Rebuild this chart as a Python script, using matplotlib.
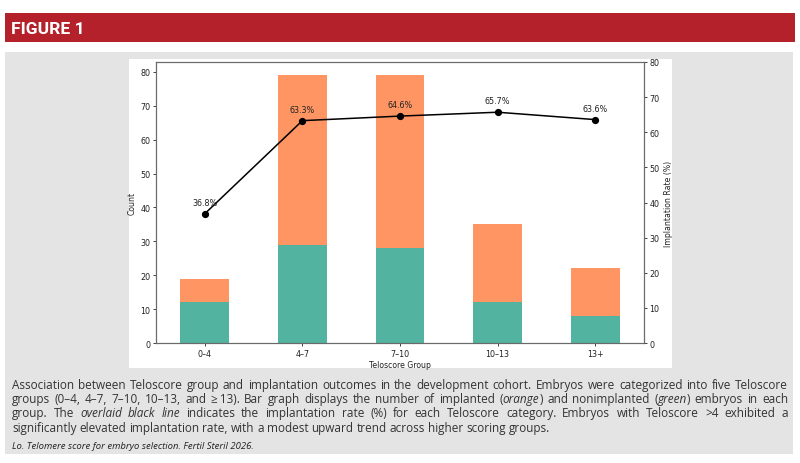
import numpy as np
import matplotlib
matplotlib.use('Agg')
import matplotlib.pyplot as plt
from matplotlib.patches import Rectangle
from matplotlib import font_manager

# chart data
groups = ['0–4', '4–7', '7–10', '10–13', '13+']
nonimplanted = [12, 29, 28, 12, 8]
implanted = [7, 50, 51, 23, 14]
rate = [36.8, 63.3, 64.6, 65.7, 63.6]

# caption, *...* marks italics
caption = [
    "Association between Teloscore group and implantation outcomes in the development cohort. Embryos were categorized into five Teloscore",
    "groups (0–4, 4–7, 7–10, 10–13, and \u2265\u200913). Bar graph displays the number of implanted (*orange*) and nonimplanted (*green*) embryos in each",
    "group. The *overlaid black line* indicates the implantation rate (%) for each Teloscore category. Embryos with Teloscore >4 exhibited a",
    "significantly elevated implantation rate, with a modest upward trend across higher scoring groups.",
]
citation = "Lo. Telomere score for embryo selection. Fertil Steril 2026."

W, H = 800, 464
green = '#52b4a0'
orange = '#fe9562'
cap_font = ['Open Sans', 'DejaVu Sans']
installed = {f.name for f in font_manager.fontManager.ttflist}
head_font = ['Liberation Sans Narrow' if 'Liberation Sans Narrow' in installed else 'Roboto',
             'DejaVu Sans']

fig = plt.figure(figsize=(W / 100, H / 100), dpi=100)
fig.patch.set_facecolor('white')

def px_rect(x0, y0, x1, y1, color):
    # pixel box -> figure fraction
    fig.patches.append(Rectangle((x0 / W, 1 - y1 / H), (x1 - x0) / W, (y1 - y0) / H,
                                 transform=fig.transFigure, facecolor=color,
                                 edgecolor='none', zorder=-10))

px_rect(5, 14, 795, 43, '#b5212b')   # red banner
px_rect(5, 53, 793, 455, '#e4e4e4')  # grey panel
px_rect(129, 60, 672, 369, 'white')  # chart box

fig.text(11 / W, 1 - 29 / H, 'FIGURE 1', color='white', fontsize=12.6,
         fontweight='bold', family=head_font, va='center', ha='left')

# main chart
ax = fig.add_axes([156 / W, 1 - 344 / H, 488 / W, 281 / H])
x = np.arange(len(groups))
ax.bar(x, nonimplanted, 0.5, color=green)
ax.bar(x, implanted, 0.5, bottom=nonimplanted, color=orange)
ax.set_xlim(-0.5, len(groups) - 0.5)
ax.set_xticks(x)
ax.set_xticklabels(groups)
ax.set_xlabel('Teloscore Group', fontsize=5.6, color='#222', labelpad=1.5)
ax.set_ylabel('Count', fontsize=5.6, color='#222', labelpad=3)

ax2 = ax.twinx()
ax2.plot(x, rate, '-o', color='black', lw=1.1, ms=4.2)
ax2.set_ylim(0, 80)
ax2.set_ylabel('Implantation Rate (%)', fontsize=5.6, color='#222', labelpad=3)
for xi, r in zip(x, rate):
    ax2.annotate(f'{r:.1f}%', (xi, r), textcoords='offset points', xytext=(0, 5),
                 ha='center', va='bottom', fontsize=5.8, color='#222')

for a in (ax, ax2):
    a.tick_params(labelsize=5.8, length=2, width=0.6, pad=2, colors='#222')
    for s in a.spines.values():
        s.set_color('#6a6a6a')
        s.set_linewidth(0.8)

# justified caption, word by word
renderer = fig.canvas.get_renderer()
cap_size = 8.45

def text_w(s, style='normal', size=cap_size):
    t = fig.text(0, 0, s, fontsize=size, style=style, family=cap_font)
    w = t.get_window_extent(renderer).width
    t.remove()
    return w

space_w = text_w('x x') - text_w('xx')

def draw_line(line, y, x0, x1, justify):
    words = []
    italic = False
    for raw in line.split(' '):
        segs = []
        for i, part in enumerate(raw.split('*')):
            if i > 0:
                italic = not italic
            if part:
                segs.append((part, 'italic' if italic else 'normal'))
        words.append(segs)
    widths = [sum(text_w(p, st) for p, st in segs) for segs in words]
    gap = space_w
    if justify and len(words) > 1:
        gap = (x1 - x0 - sum(widths)) / (len(words) - 1)
    cx = x0
    for segs, w in zip(words, widths):
        sx = cx
        for p, st in segs:
            fig.text(sx / W, 1 - y / H, p, fontsize=cap_size, style=st, family=cap_font,
                     color='#333333', va='baseline', ha='left')
            sx += text_w(p, st)
        cx += w + gap

for i, line in enumerate(caption):
    draw_line(line, 389 + i * 14.2, 12, 788, i < len(caption) - 1)

fig.text(12 / W, 1 - 449 / H, citation, fontsize=6.8, style='italic', family=cap_font,
         color='#222', va='baseline', ha='left')

fig.savefig('out.png', dpi=100, facecolor=fig.get_facecolor())
